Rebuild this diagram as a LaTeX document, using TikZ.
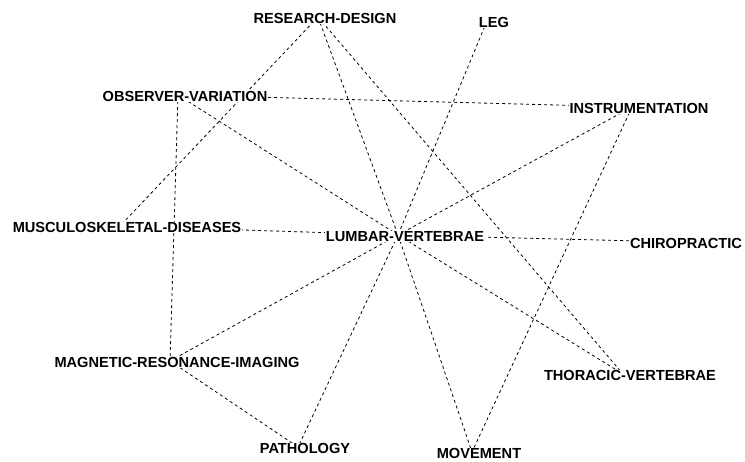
\documentclass[tikz,border=0pt]{standalone}
\usepackage{fontspec}
\setmainfont{Liberation Sans}
\usetikzlibrary{backgrounds}
\begin{document}
\begin{tikzpicture}[x=1pt,y=-1pt,
  vtx/.style={inner sep=0pt,minimum size=0pt},
  lbl/.style={fill=white,inner sep=0.8pt,font=\fontsize{14.6}{16}\selectfont\bfseries,xshift=7pt,yshift=-1.5pt},
  link/.style={draw=black,line width=0.8pt,dash pattern=on 3pt off 3pt}]
\useasboundingbox (0,0) rectangle (745,461);
% vertices with their labels
\node[vtx,label={[lbl]center:RESEARCH-DESIGN}] (rd) at (318,17) {};
\node[vtx,label={[lbl]center:LEG}] (leg) at (487,21) {};
\node[vtx,label={[lbl]center:OBSERVER-VARIATION}] (ov) at (178,95) {};
\node[vtx,label={[lbl]center:INSTRUMENTATION}] (inst) at (632,107) {};
\node[vtx,label={[lbl]center:MUSCULOSKELETAL-DISEASES}] (msd) at (120,226) {};
\node[vtx,label={[lbl]center:LUMBAR-VERTEBRAE}] (lv) at (398,235) {};
\node[vtx,label={[lbl]center:CHIROPRACTIC}] (chiro) at (679,242) {};
\node[vtx,label={[lbl]center:MAGNETIC-RESONANCE-IMAGING}] (mri) at (170,361) {};
\node[vtx,label={[lbl]center:THORACIC-VERTEBRAE}] (tv) at (623,374) {};
\node[vtx,label={[lbl]center:PATHOLOGY}] (path) at (298,447) {};
\node[vtx,label={[lbl]center:MOVEMENT}] (mov) at (472,452) {};
% links, drawn beneath the labels
\begin{scope}[on background layer]
\draw[link] (rd) -- (msd);
\draw[link] (rd) -- (lv);
\draw[link] (rd) -- (tv);
\draw[link] (leg) -- (lv);
\draw[link] (ov) -- (inst);
\draw[link] (ov) -- (lv);
\draw[link] (ov) -- (mri);
\draw[link] (inst) -- (lv);
\draw[link] (inst) -- (mov);
\draw[link] (msd) -- (lv);
\draw[link] (lv) -- (chiro);
\draw[link] (lv) -- (mri);
\draw[link] (lv) -- (tv);
\draw[link] (lv) -- (path);
\draw[link] (lv) -- (mov);
\draw[link] (mri) -- (path);
\end{scope}
\end{tikzpicture}
\end{document}
